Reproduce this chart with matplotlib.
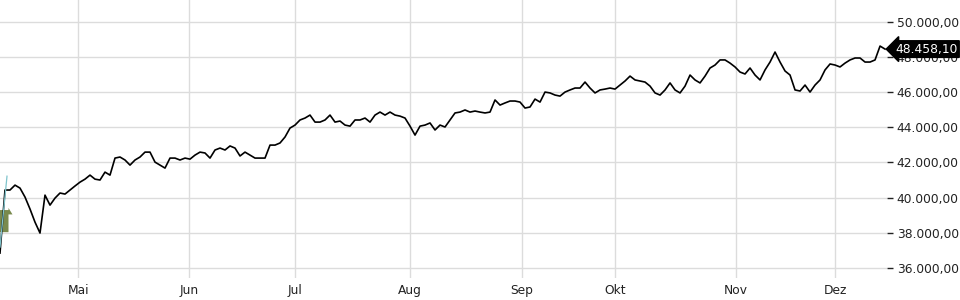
import numpy as np
import matplotlib
matplotlib.use("Agg")
import matplotlib.pyplot as plt
import matplotlib.transforms as mtransforms
from matplotlib.patches import Polygon

# closing prices, roughly one per trading day
prices = [
    36840, 40430, 40430, 40710, 40540, 40030, 39350, 38600, 37980, 40140,
    39570, 39970, 40260, 40200, 40430, 40660, 40880, 41050, 41280, 41050,
    41000, 41450, 41280, 42250, 42310, 42140, 41850, 42140, 42310, 42590,
    42590, 42020, 41850, 41680, 42250, 42250, 42140, 42250, 42190, 42420,
    42590, 42540, 42250, 42710, 42820, 42710, 42940, 42820, 42370, 42590,
    42420, 42250, 42250, 42250, 42990, 42990, 43110, 43450, 43960, 44130,
    44420, 44530, 44700, 44300, 44300, 44420, 44700, 44300, 44360, 44130,
    44070, 44420, 44420, 44530, 44300, 44700, 44870, 44700, 44870, 44700,
    44640, 44530, 44070, 43560, 44070, 44130, 44250, 43850, 44130, 44020,
    44420, 44820, 44870, 44990, 44870, 44930, 44870, 44820, 44870, 45560,
    45270, 45390, 45500, 45500, 45440, 45100, 45160, 45610, 45440, 46010,
    45960, 45840, 45780, 46010, 46130, 46240, 46240, 46580, 46240, 45960,
    46130, 46180, 46240, 46180, 46410, 46640, 46920, 46700, 46640, 46580,
    46350, 45960, 45840, 46130, 46530, 46130, 45960, 46350, 46980, 46700,
    46530, 46920, 47380, 47550, 47840, 47840, 47660, 47440, 47150, 47040,
    47380, 46980, 46700, 47270, 47720, 48290, 47720, 47210, 46980, 46130,
    46070, 46410, 46010, 46410, 46700, 47270, 47610, 47550, 47440, 47660,
    47840, 47950, 47950, 47720, 47720, 47840, 48630, 48458.10,
]
months = ["Mai", "Jun", "Jul", "Aug", "Sep", "Okt", "Nov", "Dez"]
month_pos = [15.6, 37.8, 59.0, 82.0, 104.4, 123.0, 147.2, 167.0]
y_ticks = [36000, 38000, 40000, 42000, 44000, 46000, 48000, 50000]
trend_start = 37180
trend_end = 41220
signal_low = 38030
signal_high = 39290


def de_fmt(v):
    s = f"{v:,.2f}"
    return s.replace(",", "X").replace(".", ",").replace("X", ".")


fig = plt.figure(figsize=(9.6, 3.0), dpi=100)
ax = fig.add_axes([0.0, 0.073, 0.924, 0.927])

x = np.arange(len(prices))

# signal marker + trend line at the very left
ax.add_patch(Polygon([(0, signal_low), (1.7, signal_low), (1.7, signal_high - 250),
                      (2.5, signal_high - 250), (1.7, signal_high + 120), (1.7, signal_high),
                      (0, signal_high)],
                     closed=True, fc="#6b7d3a", ec="none", alpha=0.9, zorder=2))
ax.plot([0, 1.4], [trend_start, trend_end], color="#7fc4cc", lw=0.9, zorder=4)

ax.plot(x, prices, color="black", lw=1.2, zorder=3)

ax.set_xlim(0, 177.4)
ax.set_ylim(35414, 51254)

ax.set_xticks(month_pos)
ax.set_xticklabels(months)
ax.set_yticks(y_ticks)
ax.set_yticklabels([de_fmt(v) for v in y_ticks])
ax.yaxis.tick_right()
ax.tick_params(axis="y", length=4, width=1, color="#222222", pad=3,
               labelsize=8.8, labelcolor="#222222")
ax.tick_params(axis="x", length=0, pad=4, labelsize=8.8, labelcolor="#222222")

ax.grid(True, color="#dcdcdc", lw=1)
ax.set_axisbelow(True)
for sp in ax.spines.values():
    sp.set_visible(False)

# last price tag
trans = mtransforms.blended_transform_factory(ax.transAxes, ax.transData)
ax.text(1.009, prices[-1], de_fmt(prices[-1]), transform=trans,
        ha="left", va="center", fontsize=8.8, color="white", clip_on=False,
        bbox=dict(boxstyle="larrow,pad=0.15", fc="black", ec="black"), zorder=5)

fig.savefig("out.png", dpi=100)
